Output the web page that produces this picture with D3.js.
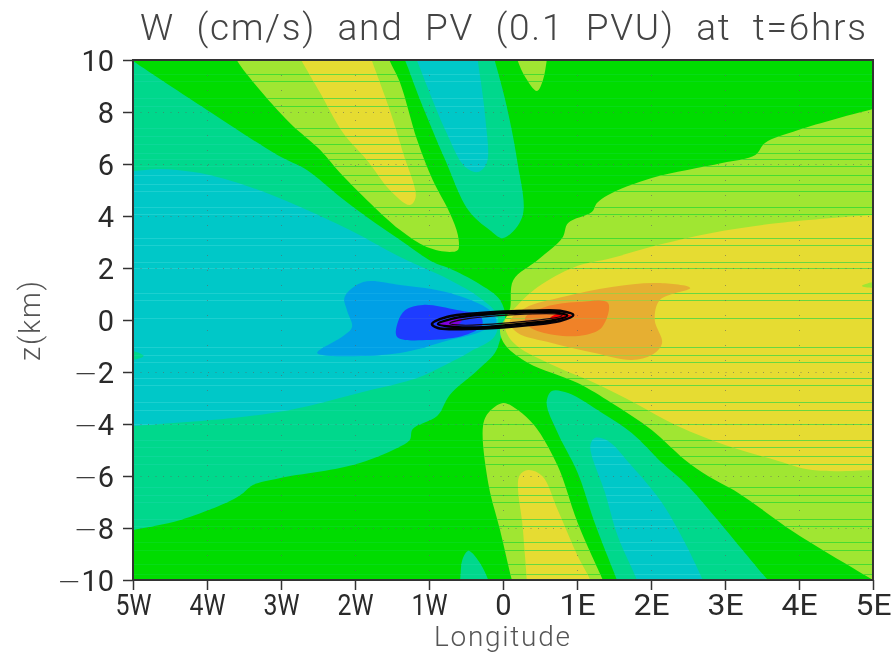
<!DOCTYPE html>
<html><head><meta charset="utf-8">
<script src="https://cdn.jsdelivr.net/npm/d3@7"></script>
<style>html,body{margin:0;padding:0;background:#fff;overflow:hidden}svg{display:block;filter:blur(.55px)}</style>
</head><body><div id="chart"></div>
<script>
// Values: [longitude in degrees (W negative), height in km]; shaded W bands
const westTealBand=[[-5.31,10.58],[-5,9.96],[-4,8.08],[-3.05,6.35],[-2.65,5.77],[-2.2,4.73],[-1.84,3.96],[-1.39,3.08],[-0.95,2.23],[-0.72,1.98],[-0.34,1.42],[-0.04,0.77],[0.03,0.08],[-0.04,-0.77],[-0.11,-1.27],[-0.34,-1.92],[-0.72,-2.88],[-0.89,-3.69],[-1.22,-4.19],[-1.26,-4.62],[-1.43,-4.92],[-2.03,-5.58],[-3.01,-6.08],[-3.38,-6.35],[-3.51,-6.65],[-3.69,-6.96],[-4.36,-7.69],[-5,-8.08],[-5.31,-8.27],[-5.6,0]];
const westCyanBand=[[-5.31,5.73],[-5,5.73],[-4.64,5.81],[-4.09,5.65],[-3.42,5.12],[-2.74,4.35],[-2.07,3.46],[-1.39,2.42],[-0.72,1.54],[-0.31,0.85],[-0.08,0.19],[-0.11,-0.62],[-0.45,-1.23],[-0.78,-1.73],[-1.16,-2.23],[-1.84,-2.73],[-2.88,-3.46],[-3.65,-3.77],[-5,-4.08],[-5.31,-4.15],[-5.6,0]];
const westLightBlueBand=[[-2.14,0.88],[-1.89,1.46],[-1.39,1.35],[-0.72,1.04],[-0.18,0.38],[-0.09,-0.08],[-0.31,-0.46],[-0.72,-0.77],[-1.39,-1.27],[-2.3,-1.38],[-2.51,-1.27],[-2.16,-0.62],[-2.04,-0.27],[-2.11,0.38]];
const westBlueBand=[[-1.42,-0.08],[-1.32,0.38],[-1.08,0.58],[-0.62,0.38],[-0.31,0.15],[-0.28,-0.19],[-0.51,-0.58],[-0.99,-0.77],[-1.43,-0.65]];
const eastLimeBand=[[5.3,8.31],[5,8.12],[3.99,7.31],[3.54,6.81],[3.41,6.35],[2.96,6.04],[2.01,5.46],[1.42,4.81],[1.27,4.5],[1.2,4.15],[0.88,3.73],[0.8,3.15],[0.47,2.31],[0.14,1.54],[0.09,0.38],[-0.04,-0.38],[0.03,-0.96],[0.34,-1.65],[1.01,-2.42],[1.47,-3.19],[2.01,-4.23],[2.46,-5.38],[2.77,-6],[3.18,-6.65],[3.95,-8.19],[5,-10],[5.3,-10.54],[5.6,0]];
const eastYellowBand=[[5.3,4.08],[5,4.04],[3.72,3.73],[2.82,3.35],[2.09,2.88],[1.47,2.38],[0.97,2.04],[0.47,1.27],[0.16,0.46],[0.03,0],[0.05,-0.5],[0.19,-1],[0.7,-1.77],[1.24,-2.42],[1.78,-3.19],[2.36,-4.08],[3.04,-4.85],[3.72,-5.42],[4.18,-5.77],[5,-5.77],[5.3,-5.69],[5.6,0]];
const eastAmberBand=[[2.53,1.23],[2.09,1.42],[1.47,1.27],[0.8,0.88],[0.3,0.46],[0.09,-0.08],[0.2,-0.5],[0.66,-0.88],[1.24,-1.27],[1.74,-1.54],[2.01,-1.35],[2.15,-0.88],[2.05,0],[2.12,0.77]];
const eastOrangeBand=[[1.42,0.65],[1.01,0.69],[0.57,0.5],[0.3,0.08],[0.36,-0.27],[0.7,-0.58],[1.11,-0.58],[1.34,-0.27]];
const upperLimeTongue=[[-3.66,10.38],[-3.59,9.96],[-3.32,8.96],[-2.88,7.58],[-2.47,6.54],[-2.2,5.65],[-1.84,4.62],[-1.39,3.46],[-1.03,2.81],[-0.72,2.62],[-0.61,2.69],[-0.61,3.27],[-0.72,4.12],[-0.95,5.38],[-1.16,6.92],[-1.39,9.12],[-1.53,9.96],[-1.59,10.38]];
const upperYellowTongue=[[-2.8,10.38],[-2.72,9.96],[-2.47,8.73],[-2.16,7.19],[-1.84,6.15],[-1.53,5],[-1.26,4.42],[-1.18,4.73],[-1.35,6.42],[-1.53,8.08],[-1.77,9.96],[-1.82,10.38]];
const upperTealTongue=[[-1.39,10.38],[-1.32,9.96],[-1.12,8.46],[-0.78,6.15],[-0.47,4.23],[-0.18,3.46],[0,3.15],[0.26,3.96],[0.19,6.15],[0.03,8.46],[-0.11,9.96],[-0.15,10.38]];
const upperCyanTongue=[[-1.22,10.38],[-1.16,9.96],[-0.78,7.31],[-0.51,5.88],[-0.34,5.69],[-0.22,6.04],[-0.24,7.81],[-0.34,9.96],[-0.36,10.38]];
const topLimeTongue=[[0.16,10.38],[0.2,9.96],[0.3,9.35],[0.46,8.81],[0.54,9.23],[0.59,9.96],[0.61,10.38]];
const lowerLimeTongue=[[0.16,-10.38],[0.12,-10],[-0.04,-8.08],[-0.2,-6.27],[-0.27,-4.08],[-0.2,-3.58],[0,-3.19],[0.2,-3.46],[0.43,-4.08],[0.74,-5.62],[1.01,-7.81],[1.35,-10],[1.41,-10.38]];
const lowerYellowTongue=[[0.32,-10.38],[0.32,-10],[0.27,-8.08],[0.22,-6],[0.34,-5.77],[0.53,-6],[0.74,-7.31],[1.01,-9.08],[1.18,-10],[1.23,-10.38]];
const lowerTealTongue=[[1.59,-10.38],[1.54,-10],[1.24,-7.81],[1.01,-5.88],[0.74,-4.35],[0.59,-3.19],[0.66,-2.73],[0.88,-2.81],[1.34,-3.58],[1.74,-4.35],[2.15,-5.5],[2.46,-6.27],[2.82,-7.42],[3.27,-8.96],[3.58,-10],[3.72,-10.38]];
const lowerCyanTongue=[[1.85,-10.38],[1.81,-10],[1.55,-8.31],[1.38,-6.65],[1.18,-4.85],[1.24,-4.54],[1.42,-4.65],[1.74,-5.62],[2.15,-7.04],[2.46,-8.58],[2.7,-10],[2.76,-10.38]];
const bottomTealTongue=[[-0.61,-10.38],[-0.58,-10],[-0.55,-9.23],[-0.47,-8.88],[-0.34,-9.23],[-0.2,-10],[-0.18,-10.38]];
const eastLimeSliver=[[4.85,1.31],[5,1.46],[5.3,1.54],[5.3,1.15],[5,1.23]];
const westTealSliver=[[-4.86,-1.38],[-5,-1.19],[-5.24,-1.15],[-5.24,-1.62],[-5,-1.54]];
const purpleTip=[[-0.88,-0.19],[-0.72,0],[-0.55,0.04],[-0.61,-0.19],[-0.78,-0.27]];
const redTip=[[0.64,0.08],[0.77,0.27],[0.93,0.15],[0.77,0]];
// PV contours
const pvOuter=[[-0.96,-0.15],[-0.76,0.12],[-0.31,0.27],[0.36,0.35],[0.77,0.35],[0.95,0.19],[0.77,-0.04],[0.36,-0.19],[-0.11,-0.31],[-0.65,-0.35],[-0.88,-0.31]];
const pvMiddle=[[-0.88,-0.15],[-0.6,0.1],[-0.2,0.22],[0.3,0.29],[0.7,0.29],[0.87,0.17],[0.7,0],[0.3,-0.13],[-0.15,-0.25],[-0.6,-0.28]];
const pvInner=[[-0.72,-0.13],[-0.45,0.06],[0.72,0.23],[0.8,0.16],[0.6,0.04],[-0.55,-0.2]];
// Fine horizontal streaks of the source image, height in km
const streakLevels=[9.46,9.19,8.54,8.23,7.38,7.08,6.77,6.42,6.19,5.92,5.58,5.23,4.96,4.35,4.08,3.15,2.88,2.23,2,1.04,0.77,0.08,-1.04,-1.35,-1.62,-2.23,-2.5,-3.15,-3.46,-4,-4.62,-4.88,-5.23,-5.54,-6.42,-6.73,-7,-7.65,-7.92,-8.54,-8.85,-9.38,-9.77];
const lonTicks=[-5,-4,-3,-2,-1,0,1,2,3,4,5];
const lonLabels=["5W","4W","3W","2W","1W","0","1E","2E","3E","4E","5E"];
const zTicks=[-10,-8,-6,-4,-2,0,2,4,6,8,10];
const zLabels=["\u221210","\u22128","\u22126","\u22124","\u22122","0","2","4","6","8","10"];
const titleText="W\u00a0\u00a0(cm/s)\u00a0\u00a0and\u00a0\u00a0PV\u00a0\u00a0(0.1\u00a0\u00a0PVU)\u00a0\u00a0at\u00a0\u00a0t=6hrs";

const C={green:"#00dc00",teal:"#00d88c",cyan:"#00c8c8",lblue:"#00a0e6",blue:"#1e3cff",lime:"#a0e632",yellow:"#e6dc32",amber:"#e6af32",orange:"#f08228"};
const S={green:"#06dc18",teal:"#0cd898",cyan:"#1cd0d0",lblue:"#0ca8e8",blue:"#2a48f8",lime:"#48dc30",yellow:"#68d840",amber:"#a8c840",orange:"#d09838"};
const layers=[
 [westTealBand,"teal"],[westCyanBand,"cyan"],[westLightBlueBand,"lblue"],[westBlueBand,"blue"],
 [eastLimeBand,"lime"],[eastYellowBand,"yellow"],[eastAmberBand,"amber"],[eastOrangeBand,"orange"],
 [upperLimeTongue,"lime"],[upperYellowTongue,"yellow"],[upperTealTongue,"teal"],[upperCyanTongue,"cyan"],[topLimeTongue,"lime"],
 [lowerLimeTongue,"lime"],[lowerYellowTongue,"yellow"],[lowerTealTongue,"teal"],[lowerCyanTongue,"cyan"],[bottomTealTongue,"teal"],
 [eastLimeSliver,"lime"],[westTealSliver,"teal"]];

const W=895,H=653,m={l:133,r:873,t:60,b:580};
const x=d3.scaleLinear().domain([-5,5]).range([m.l,m.r]);
const y=d3.scaleLinear().domain([-10,10]).range([m.b,m.t]);
const svg=d3.select("#chart").append("svg").attr("width",W).attr("height",H);
const defs=svg.append("defs");
defs.append("clipPath").attr("id","plot").append("rect").attr("x",m.l).attr("y",m.t).attr("width",m.r-m.l).attr("height",m.b-m.t);
const area=d3.line().x(d=>x(d[0])).y(d=>y(d[1])).curve(d3.curveCatmullRomClosed.alpha(.5));
const plot=svg.append("g").attr("clip-path","url(#plot)");
function streaks(g,col){g.selectAll("line").data(streakLevels).join("line")
  .attr("x1",m.l).attr("x2",m.r).attr("y1",d=>Math.round(y(d))+.5).attr("y2",d=>Math.round(y(d))+.5)
  .attr("stroke",col).attr("stroke-width",1.2);}
plot.append("rect").attr("x",m.l).attr("y",m.t).attr("width",m.r-m.l).attr("height",m.b-m.t).attr("fill",C.green);
streaks(plot.append("g"),S.green);
layers.forEach((l,i)=>{
  const d=area(l[0]);
  defs.append("clipPath").attr("id","c"+i).append("path").attr("d",d);
  plot.append("path").attr("d",d).attr("fill",C[l[1]]);
  streaks(plot.append("g").attr("clip-path",`url(#c${i})`),S[l[1]]);
});
plot.append("path").attr("d",area(purpleTip)).attr("fill","#8000dc");
plot.append("path").attr("d",area(redTip)).attr("fill","#ff0000");
// dotted grid
const grid=plot.append("g").attr("stroke","#606060").attr("stroke-opacity",.6).attr("stroke-width",1);
grid.selectAll(".v").data(lonTicks.slice(1,-1)).join("line").attr("x1",d=>x(d)+.5).attr("x2",d=>x(d)+.5).attr("y1",m.t).attr("y2",m.b).attr("stroke-dasharray","1 14");
grid.selectAll(".h").data(zTicks.slice(1,-1).filter(d=>d!==0)).join("line").attr("x1",m.l).attr("x2",m.r).attr("y1",d=>y(d)+.5).attr("y2",d=>y(d)+.5).attr("stroke-dasharray","1 6.5");
// PV contours
plot.selectAll(".pv").data([[pvOuter,2.6,"#050008"],[pvMiddle,2.4,"#000"],[pvInner,1.2,"#1a0a10"]]).join("path")
  .attr("d",d=>area(d[0])).attr("fill","none").attr("stroke",d=>d[2]).attr("stroke-width",d=>d[1]);
// axes
const font="Roboto, 'Liberation Sans', sans-serif";
const ax=svg.append("g").attr("transform",`translate(0,${m.b})`).call(d3.axisBottom(x).tickValues(lonTicks).tickFormat((d,i)=>lonLabels[i]).tickSize(10).tickSizeOuter(0).tickPadding(4));
const ay=svg.append("g").attr("transform",`translate(${m.l},0)`).call(d3.axisLeft(y).tickValues(zTicks).tickFormat((d,i)=>zLabels[i]).tickSize(10).tickSizeOuter(0).tickPadding(9));
[ax,ay].forEach(a=>{a.selectAll("text").attr("font-family",font).attr("font-weight",400).attr("font-size",29).attr("fill","#2a2a2a");
  a.selectAll(".tick line").attr("stroke","#333").attr("stroke-width",1.5);a.select(".domain").remove();});
ax.selectAll("text").attr("dy","0.72em").attr("textLength",(d,i)=>lonLabels[i].length>1?36:null).attr("lengthAdjust","spacingAndGlyphs");
ay.selectAll("text").attr("dy","0.36em").each(function(){
  const t=d3.select(this),s=t.text();
  if(s[0]==="\u2212"){t.text(null);t.append("tspan").attr("font-family","'DejaVu Sans'").attr("font-weight",300).text("\u2212");t.append("tspan").text(s.slice(1));}
});
svg.append("rect").attr("x",m.l).attr("y",m.t).attr("width",m.r-m.l).attr("height",m.b-m.t).attr("fill","none").attr("stroke","#333").attr("stroke-width",2);
// titles
svg.append("text").text(titleText).attr("x",140).attr("y",40).attr("font-family",font).attr("font-weight",300).attr("font-size",37).attr("fill","#444").attr("textLength",726).attr("lengthAdjust","spacing");
svg.append("text").text("Longitude").attr("x",502).attr("y",646).attr("text-anchor","middle").attr("font-family",font).attr("font-weight",300).attr("font-size",28).attr("fill","#555").attr("textLength",136).attr("lengthAdjust","spacing");
svg.append("text").text("z(km)").attr("transform","translate(40,321) rotate(-90)").attr("text-anchor","middle").attr("font-family",font).attr("font-weight",300).attr("font-size",29).attr("fill","#555").attr("textLength",80).attr("lengthAdjust","spacing");
</script></body></html>
